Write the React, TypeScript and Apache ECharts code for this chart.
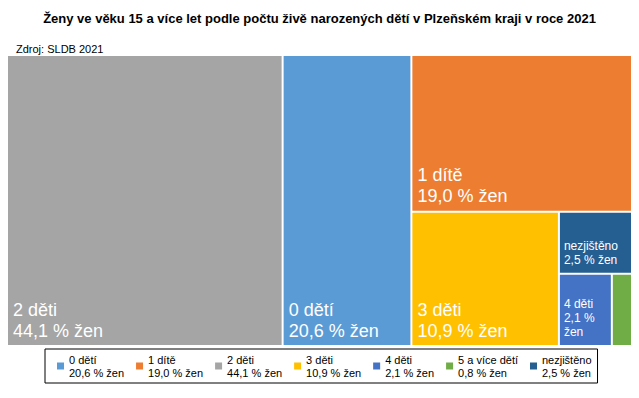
import React, { useEffect, useRef } from "react";
import * as echarts from "echarts";

const titleText =
  "Ženy ve věku 15 a více let podle počtu živě narozených dětí v Plzeňském kraji v roce 2021";
const sourceText = "Zdroj: SLDB 2021";
const categories = ["0 dětí", "1 dítě", "2 děti", "3 děti", "4 děti", "5 a více dětí", "nezjištěno"];
const shares = [20.6, 19.0, 44.1, 10.9, 2.1, 0.8, 2.5];
const colors = ["#5B9BD5", "#ED7D31", "#A5A5A5", "#FFC000", "#4472C4", "#70AD47", "#255E91"];

const fmt = (v: number) => v.toFixed(1).replace(".", ",");
const FONT = "'Liberation Sans', Arial, sans-serif";

export default function App() {
  const ref = useRef<HTMLDivElement>(null);
  useEffect(() => {
    if (!ref.current) return;
    const chart = echarts.init(ref.current, null, { renderer: "svg" });
    const treeData = categories.map((name, i) => {
      const big = shares[i] >= 5;
      const tiny = shares[i] < 1;
      const narrow = shares[i] < 2.3;
      return {
        name,
        value: shares[i],
        itemStyle: { color: colors[i] },
        label: tiny
          ? { show: false }
          : {
              show: true,
              fontSize: big ? 18 : 12,
              lineHeight: big ? 21 : 14,
              padding: big ? [0, 0, 4, 5] : [0, 0, 6, 4],
              overflow: narrow ? "break" : "none",
            },
      };
    });
    chart.setOption({
      animation: false,
      textStyle: { fontFamily: FONT },
      title: [
        {
          text: titleText,
          left: "center",
          top: 7,
          textStyle: { fontSize: 13, fontWeight: "bold", color: "#000", fontFamily: FONT },
        },
        {
          text: sourceText,
          left: 11,
          top: 38,
          textStyle: { fontSize: 11, fontWeight: "normal", color: "#000", fontFamily: FONT },
        },
      ],
      legend: {
        data: categories,
        left: 45,
        top: 349,
        selectedMode: false,
        icon: "rect",
        itemWidth: 7,
        itemHeight: 7,
        itemGap: 12,
        borderColor: "#000",
        borderWidth: 1,
        padding: [4, 6, 4, 12],
        borderRadius: 0,
        textStyle: { fontSize: 11, color: "#000", lineHeight: 13, fontFamily: FONT },
        formatter: (name: string) => `${name}\n${fmt(shares[categories.indexOf(name)])} % žen`,
      },
      series: [
        {
          type: "treemap",
          left: 8,
          top: 56,
          width: 623,
          height: 289,
          squareRatio: 0.5,
          sort: "desc",
          roam: false,
          nodeClick: false,
          breadcrumb: { show: false },
          itemStyle: { gapWidth: 2, borderWidth: 0, borderColor: "#fff" },
          label: {
            show: true,
            position: "insideBottomLeft",
            distance: 0,
            color: "#fff",
            fontFamily: FONT,
            formatter: (p: any) => `${p.name}\n${fmt(p.value)} % žen`,
          },
          upperLabel: { show: false },
          emphasis: { disabled: true },
          data: treeData,
        },
        {
          type: "pie",
          radius: [0, 0],
          silent: true,
          label: { show: false },
          labelLine: { show: false },
          data: categories.map((name, i) => ({
            name,
            value: shares[i],
            itemStyle: { color: colors[i] },
          })),
        },
      ],
    });
    return () => chart.dispose();
  }, []);
  return (
    <div
      ref={ref}
      style={{ position: "fixed", left: 0, top: 0, width: 639, height: 398, background: "#fff" }}
    />
  );
}
